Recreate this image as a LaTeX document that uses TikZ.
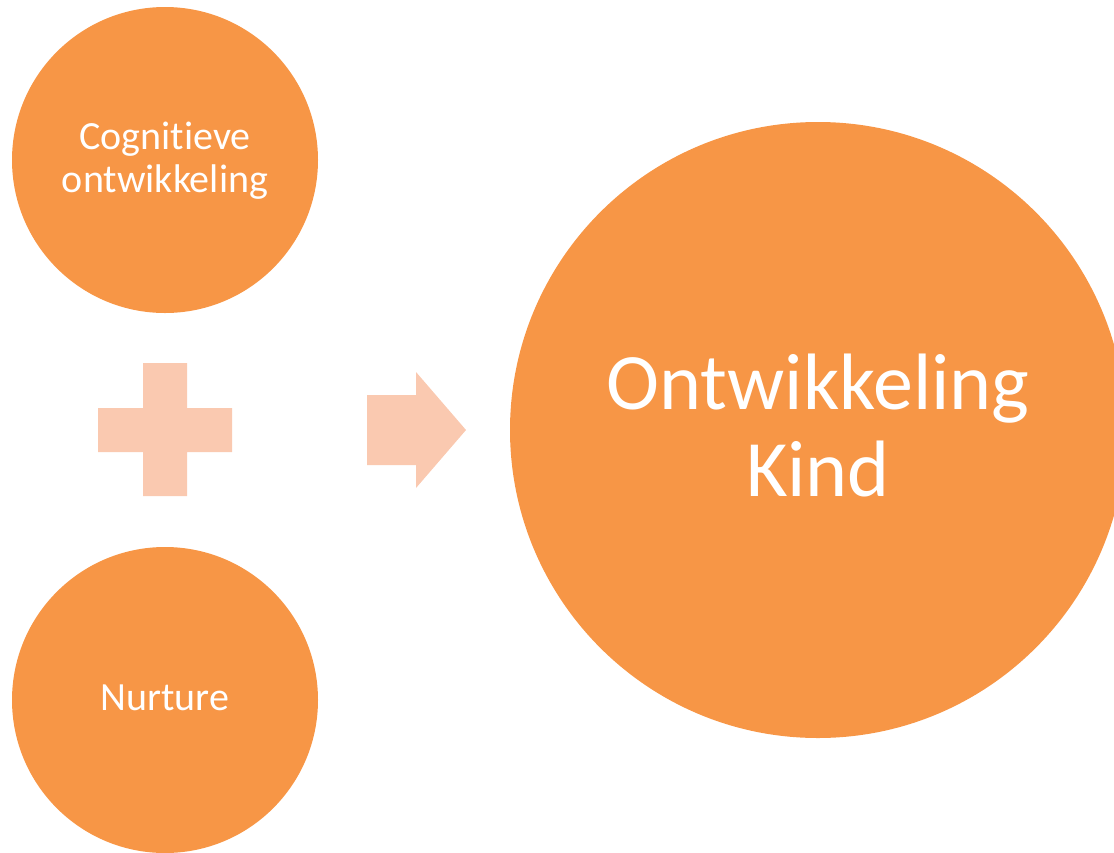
\documentclass[tikz,border=0pt]{standalone}
\usepackage{fontspec}
\setmainfont[Ligatures=NoCommon]{Carlito}
\definecolor{orng}{HTML}{F79646}
\definecolor{peach}{HTML}{FAC9B0}
\begin{document}
\begin{tikzpicture}[x=1pt,y=-1pt,
  bubble/.style={circle, fill=orng, inner sep=0pt},
  smallbubble/.style={bubble, minimum size=306pt},
  bigbubble/.style={bubble, minimum size=616pt},
  smalltext/.style={text=white, align=center, inner sep=0pt, font=\fontsize{40}{43}\selectfont},
  bigtext/.style={text=white, align=center, inner sep=0pt, font=\fontsize{80}{87}\selectfont}]
\useasboundingbox (0,0) rectangle (1114,852);
\begin{scope}
\clip (0,0) rectangle (1114,852);
\node[smallbubble] (cog) at (165,160) {};
\node[smallbubble] (nur) at (165,700) {};
\node[bigbubble] (kind) at (818,430) {};
\node[smalltext] (cogt) at (165,161) {Cognitieve\\ontwikkeling};
\node[smalltext, anchor=base] (nurt) at (165,710) {Nurture};
\node[bigtext] (kindt) at (818,425) {Ontwikkeling\\Kind};
\end{scope}
% plus sign
\fill[peach] (143,363) -- (187,363) -- (187,408) -- (232,408) -- (232,452) -- (187,452)
  -- (187,496) -- (143,496) -- (143,452) -- (98,452) -- (98,408) -- (143,408) -- cycle;
% arrow
\fill[peach] (367,395) -- (416,395) -- (416,372) -- (466,430) -- (416,488) -- (416,465) -- (367,465) -- cycle;
\end{tikzpicture}
\end{document}
